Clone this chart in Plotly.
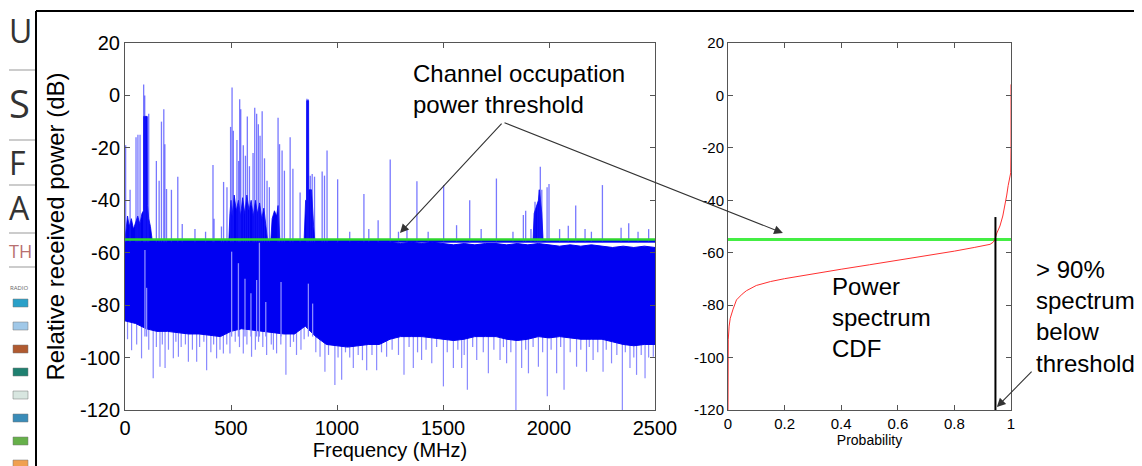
import plotly.graph_objects as go

# ---------------- left panel: measured spectrum (MHz, dB) ----------------
threshold_db = -55

band_freq = [0, 50, 100, 150, 200, 250, 300, 350, 400, 450,
             500, 550, 600, 650, 700, 750, 800, 850, 900, 950,
             1000, 1050, 1100, 1150, 1200, 1250, 1300, 1350, 1400, 1450,
             1500, 1550, 1600, 1650, 1700, 1750, 1800, 1850, 1900, 1950,
             2000, 2050, 2100, 2150, 2200, 2250, 2300, 2350, 2400, 2450,
             2500]
band_top = [-55.0, -55.0, -55.0, -55.5, -55.0, -55.5, -55.0, -55.5, -55.0, -55.0,
            -55.0, -55.5, -55.0, -55.5, -55.0, -55.0, -55.0, -55.0, -55.5, -55.5,
            -56.0, -55.5, -56.0, -55.5, -56.0, -56.0, -56.5, -56.0, -56.5, -56.0,
            -56.5, -57.0, -56.5, -57.0, -56.5, -56.5, -57.0, -56.5, -57.0, -56.5,
            -57.0, -57.5, -57.0, -57.5, -57.0, -57.5, -58.0, -57.5, -58.0, -57.5,
            -58.0]
band_bottom = [-86, -87, -89, -90, -90, -90.5, -91, -91, -91.5, -92,
               -90, -89, -89.5, -90, -90.5, -91, -91, -88, -92, -95,
               -95.5, -96, -95.5, -95, -95, -93, -92, -92, -92, -92.5,
               -93, -93.5, -93, -92, -92, -92, -93, -93.5, -93, -92,
               -92.5, -92, -92.5, -93, -93, -93, -94, -95, -95.5, -95,
               -95]

# upper edge of the densely occupied blocks above the threshold
busy_freq = [0, 5, 12, 20, 30, 40, 50, 60, 70, 80, 87, 88, 104, 106, 112, 120, 128,
             490, 495, 500, 505, 515, 525, 535, 545, 555, 565, 575, 585, 595, 605,
             615, 625, 635, 645, 655, 665, 672,
             688, 694, 705, 715, 722, 730,
             845, 849, 852, 856, 857, 866, 867, 880, 884, 890, 895,
             1925, 1930, 1940, 1950, 1955, 1960, 1966, 1972, 2500]
busy_top = [-55, -50, -46, -50, -47, -51, -48, -46, -49, -45, -44, -8, -8, -42, -47, -50, -55,
            -55, -45, -40, -46, -38, -44, -40, -46, -39, -45, -38, -44, -40, -46,
            -40, -45, -41, -47, -43, -50, -55,
            -55, -47, -44, -46, -42, -55,
            -55, -45, -40, -40, -2, -2, -36, -36, -44, -50, -55,
            -55, -45, -42, -40, -36, -40, -45, -55, -55]

# isolated carriers above the threshold
spike_freq = [3, 24, 52, 61, 71, 88, 93, 98, 106, 112, 148, 161, 172, 183, 188,
              196, 219, 249, 270, 330, 380, 415, 420, 455, 465, 481, 498, 505,
              511, 528, 536, 541, 546, 558, 568, 577, 587, 604, 612, 621, 629,
              637, 647, 658, 670, 681, 722, 729, 741, 752, 779, 792, 826, 858,
              864, 874, 883, 894, 930, 941, 953, 1003, 1060, 1127, 1150, 1194,
              1251, 1290, 1330, 1377, 1430, 1503, 1564, 1626, 1680, 1752, 1830,
              1879, 1890, 1915, 1934, 1945, 1953, 1959, 1966, 1991, 2000, 2050,
              2091, 2126, 2170, 2200, 2252, 2340, 2376, 2420, 2470]
spike_peak = [-19, -36, -16, -15, -15, 4.2, 0, -8, -8, -7, -25, -32.5, -10, -5.3, -18.6,
              -35.7, -36, -31, -49, -51, -52, -26.5, -47, -50, -33, -35, -12, 3,
              -13.5, -17, -25, -1.5, -5.3, -19, -23, -8, -27, -22, -4.7, -7, -11,
              -15.4, -6, -24, -32.5, -35, -8.5, -18.6, -21, -28.7, -16, -28, -37, -1.3,
              -1.5, -30.6, -30, -31, -29, -30.6, -21, -32, -52, -37.6, -51, -47.6,
              -24.4, -52, -51, -32.7, -52, -34.2, -49.5, -40, -51, -31.7, -52,
              -45.6, -44, -51, -40.6, -41.8, -36, -27.2, -36, -35, -33.8, -51,
              -49.7, -42, -51, -52, -34.2, -50.5, -48.8, -52, -51]

# deep nulls below the noise band
dip_freq = [31, 78, 133, 165, 189, 228, 252, 299, 338, 385, 432, 464, 495, 558,
            597, 668, 715, 759, 809, 920, 943, 990, 1022, 1077, 1140, 1187, 1234,
            1316, 1360, 1399, 1447, 1502, 1549, 1588, 1615, 1659, 1714, 1769,
            1800, 1844, 1871, 1903, 1950, 1992, 2036, 2071, 2130, 2177, 2208,
            2255, 2295, 2346, 2382, 2413, 2453, 2492]
dip_low = [-97.2, -100.3, -107.9, -103.5, -104, -100.3, -99.7, -101.6, -101.6, -104.8,
           -100.3, -98.4, -98.4, -98.4, -99.7, -99, -98.4, -106.6, -99, -99.7,
           -105.4, -110.5, -108.5, -104, -104.8, -104.8, -99.7, -106.6, -104,
           -100.9, -102.2, -111, -104, -104, -112.3, -100.9, -106, -100.9,
           -102.2, -120, -104, -106, -103.5, -114.8, -106, -112.3, -103.5,
           -105.4, -100.9, -105.4, -102.2, -120, -104, -106.6, -107.9, -99.7]

# shallower notches that make the lower edge ragged
notch_freq = [12, 55, 112, 148, 176, 205, 240, 265, 285, 318, 352, 372, 405, 418,
              448, 480, 520, 540, 575, 615, 630, 650, 690, 700, 735, 780, 795, 830,
              845, 900, 960, 1005, 1040, 1060, 1100, 1120, 1165, 1210, 1260, 1290,
              1340, 1380, 1420, 1470, 1520, 1570, 1600, 1640, 1690, 1740, 1785,
              1820, 1890, 1925, 1970, 2010, 2055, 2100, 2150, 2190, 2230, 2270,
              2320, 2360, 2400, 2435, 2470]
notch_low = [-93, -95, -97, -96, -95, -97, -94, -96, -95, -97, -96, -94, -98, -95,
             -97, -95, -94, -96, -95, -97, -94, -96, -95, -97, -95, -96, -94, -97,
             -93, -98, -99, -100, -98, -100, -99, -101, -99, -98, -97, -99,
             -96, -98, -97, -96, -98, -97, -99, -96, -98, -97, -96,
             -98, -97, -96, -98, -97, -96, -98, -97, -96, -98, -97,
             -99, -98, -100, -99, -100]

# lighter (sparser) streaks seen inside the noise band
streak_freq = [94, 102, 503, 535, 566, 594, 621, 634, 664, 736, 865, 885]
streak_top = [-59, -73.4, -59.6, -64, -69.9, -75.5, -70.4, -55.8, -78.8, -71.2, -71.8, -79.4]

# ---------------- right panel: CDF of the power spectrum ----------------
cdf_prob = [0, 0.001, 0.004, 0.008, 0.018, 0.03, 0.05, 0.065, 0.1, 0.15, 0.2,
            0.3, 0.4, 0.5, 0.6, 0.7, 0.8, 0.87, 0.91, 0.926, 0.937, 0.943,
            0.95, 0.961, 0.971, 0.979, 0.985, 0.99, 0.995, 0.999, 1.0, 1.0]
cdf_power = [-120, -93, -88, -85, -81.5, -78, -75.8, -74.5, -72.5, -71, -69.9,
             -68, -66.3, -64.6, -62.9, -61.3, -59.4, -58, -57.2, -56.8, -56, -55,
             -52.5, -49.8, -46, -42, -38, -34.4, -31, -29.5, -20, 4.2]
prob_at_threshold = 0.945

db_ticks = [-120, -100, -80, -60, -40, -20, 0, 20]
prob_ticks = [0, 0.2, 0.4, 0.6, 0.8, 1]


def segments(xs, y_from, y_to):
    px, py = [], []
    for x, a, b in zip(xs, y_from, y_to):
        px += [x, x, None]
        py += [a, b, None]
    return px, py


# the page body adds an 8px margin, so the figure is drawn 8px in from the corner
PAD = 8
FW, FH = 1142 - PAD, 466 - PAD


def fx(x):
    return (x - PAD) / FW


def fy(y):
    return 1 - (y - PAD) / FH


fig = go.Figure()

# left panel traces
all_dips = dip_freq + notch_freq
dx, dy = segments(all_dips, [-85] * len(all_dips), dip_low + notch_low)
fig.add_trace(go.Scatter(x=dx, y=dy, mode="lines",
                         line=dict(color="rgba(40,40,255,0.55)", width=1.2),
                         hoverinfo="skip", showlegend=False))
fig.add_trace(go.Scatter(x=band_freq + band_freq[::-1], y=band_top + band_bottom[::-1],
                         fill="toself", fillcolor="#0000f2", mode="lines",
                         line=dict(color="#0000f2", width=1), showlegend=False))
sx, sy = segments(streak_freq, streak_top, [-92] * len(streak_freq))
fig.add_trace(go.Scatter(x=sx, y=sy, mode="lines",
                         line=dict(color="#8a8aff", width=1.3), showlegend=False))
fig.add_trace(go.Scatter(x=busy_freq + [busy_freq[-1], busy_freq[0]],
                         y=busy_top + [threshold_db - 1, threshold_db - 1],
                         fill="toself", fillcolor="#0000f2", mode="lines",
                         line=dict(color="#0000f2", width=0.8), showlegend=False))
ux, uy = segments(spike_freq, [threshold_db - 1] * len(spike_freq), spike_peak)
fig.add_trace(go.Scatter(x=ux, y=uy, mode="lines",
                         line=dict(color="rgba(30,30,255,0.6)", width=1.3), showlegend=False))
fig.add_trace(go.Scatter(x=[band_freq[0], band_freq[-1]], y=[threshold_db] * 2, mode="lines",
                         line=dict(color="#2ed62e", width=2.5), showlegend=False))

# right panel traces
fig.add_trace(go.Scatter(x=[0, 1], y=[threshold_db] * 2, mode="lines", xaxis="x2", yaxis="y2",
                         line=dict(color="#44ee44", width=3), showlegend=False))
fig.add_trace(go.Scatter(x=cdf_prob, y=cdf_power, mode="lines", xaxis="x2", yaxis="y2",
                         line=dict(color="#ff3030", width=1), showlegend=False))

# background page strip on the far left (its own hidden axes, pixel units)
strip_text = ["U", "S", "F", "A", "TH", "RADIO"]
strip_rows = [35, 108, 167, 212, 253, 288]
strip_size = [32, 38, 32, 32, 18, 6]
strip_col = ["#333", "#333", "#333", "#333", "#b87070", "#666"]
fig.add_trace(go.Scatter(x=[9, 9, 9, 9, 9, 10], y=strip_rows, text=strip_text, mode="text",
                         textposition="middle right", cliponaxis=False,
                         textfont=dict(family="Open Sans", size=strip_size, color=strip_col),
                         xaxis="x3", yaxis="y3", showlegend=False, hoverinfo="skip"))
swatch_col = ["#2aa0c8", "#a0c8e8", "#b05a30", "#1f8070", "#d8e6e0", "#3a8cb8", "#66b04a", "#f0a050"]
swatch_rows = [303, 326, 349, 372, 395, 418, 441, 464]

shapes = []
for r in [70, 140, 185, 233, 267]:
    shapes.append(dict(type="line", xref="x3", yref="y3", x0=9, x1=36, y0=r, y1=r,
                       line=dict(color="#999", width=1)))
for c, r in zip(swatch_col, swatch_rows):
    shapes.append(dict(type="rect", xref="x3", yref="y3", x0=13, x1=28, y0=r - 4, y1=r + 4,
                       fillcolor=c, line=dict(color="#777", width=0.5)))
# page border of the pasted slide
shapes.append(dict(type="line", xref="paper", yref="paper", x0=fx(36), x1=1,
                   y0=fy(11), y1=fy(11), line=dict(color="black", width=2)))
shapes.append(dict(type="line", xref="paper", yref="paper", x0=fx(36), x1=fx(36),
                   y0=0, y1=fy(11), line=dict(color="black", width=2)))
# marker of the 90 % point on the CDF
shapes.append(dict(type="line", xref="x2", yref="y2", x0=prob_at_threshold, x1=prob_at_threshold,
                   y0=-46.4, y1=-123, line=dict(color="black", width=2)))

axis_common = dict(showline=True, mirror="ticks", linecolor="#555", linewidth=1,
                   ticks="inside", ticklen=5, tickcolor="#555", showgrid=False,
                   zeroline=False, automargin=False)
left_font = dict(family="Liberation Sans, Arial", size=20, color="black")
right_font = dict(family="Liberation Sans, Arial", size=15, color="black")

fig.update_layout(
    width=FW, height=FH, margin=dict(l=0, r=0, t=0, b=0),
    paper_bgcolor="white", plot_bgcolor="white",
    xaxis=dict(axis_common, domain=[fx(125), fx(655)], range=[0, 2500], dtick=500,
               tickfont=left_font, title=dict(text="Frequency (MHz)", font=left_font, standoff=2)),
    yaxis=dict(axis_common, domain=[fy(410), fy(43)], range=[-120, 20],
               tickvals=db_ticks, ticktext=[str(v) for v in db_ticks], tickfont=left_font,
               title=dict(text="Relative received power (dB)", font=dict(left_font, size=24),
                          standoff=8)),
    xaxis2=dict(axis_common, domain=[fx(728), fx(1011)], range=[0, 1],
                tickvals=prob_ticks, ticktext=[f"{v:g}" for v in prob_ticks],
                tickfont=right_font, anchor="y2",
                title=dict(text="Probability", font=dict(right_font, size=14), standoff=4)),
    yaxis2=dict(axis_common, domain=[fy(410), fy(43)], range=[-120, 20],
                tickvals=db_ticks, ticktext=[str(v) for v in db_ticks],
                tickfont=right_font, anchor="x2"),
    xaxis3=dict(domain=[0, fx(36)], range=[PAD, 36], visible=False, anchor="y3"),
    yaxis3=dict(domain=[0, fy(12)], range=[466, 12], visible=False, anchor="x3"),
    shapes=shapes,
)

note_font = dict(family="Liberation Sans, Arial", size=24, color="black")
fig.add_annotation(xref="paper", yref="paper", x=fx(411), y=fy(89), xanchor="left",
                   yanchor="middle", align="left", showarrow=False, font=note_font,
                   text="Channel occupation<br>power threshold")
fig.add_annotation(xref="paper", yref="paper", x=fx(830), y=fy(317), xanchor="left",
                   yanchor="middle", align="left", showarrow=False, font=note_font,
                   text="Power<br>spectrum<br>CDF")
fig.add_annotation(xref="paper", yref="paper", x=fx(1034), y=fy(316), xanchor="left",
                   yanchor="middle", align="left", showarrow=False, font=note_font,
                   text="> 90%<br>spectrum<br>below<br>threshold")

arrow = dict(text="", showarrow=True, arrowhead=2, arrowsize=1.6, arrowwidth=1.1,
             arrowcolor="#333", standoff=0)
fig.add_annotation(arrow, xref="x", yref="y", x=1297, y=-52.5, axref="x", ayref="y",
                   ax=1783, ay=-10.2)
fig.add_annotation(arrow, xref="x2", yref="y2", x=0.194, y=-52.5, axref="x2", ayref="y2",
                   ax=-0.795, ay=-10.2)
fig.add_annotation(arrow, xref="x2", yref="y2", x=0.95, y=-118.9, axref="x2", ayref="y2",
                   ax=1.078, ay=-104.8)

fig.write_html("out.html")
